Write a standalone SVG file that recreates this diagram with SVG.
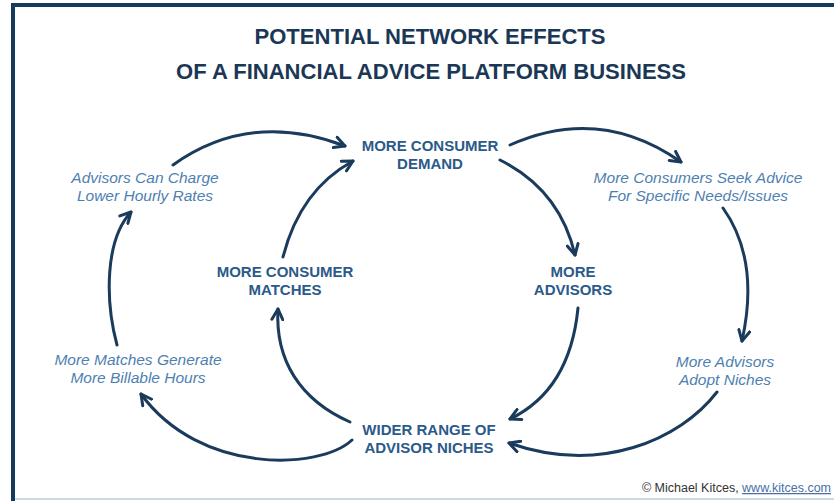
<svg xmlns="http://www.w3.org/2000/svg" width="834" height="501" viewBox="0 0 834 501">
<defs>
<marker id="arr" viewBox="0 0 14 14" refX="12" refY="7" markerWidth="14" markerHeight="14" markerUnits="userSpaceOnUse" orient="auto">
<path d="M1.5,1.5 L12,7 L1.5,12.5" fill="none" stroke="#1b3b5c" stroke-width="3" stroke-linecap="round" stroke-linejoin="round"/>
</marker>
<style>
.title{font-family:"Liberation Sans",Arial,sans-serif;font-weight:bold;font-size:22px;fill:#1b3756;text-anchor:middle}
.node{font-family:"Liberation Sans",Arial,sans-serif;font-weight:bold;font-size:15px;fill:#2b5a8a;text-anchor:middle}
.it{font-family:"Liberation Sans",Arial,sans-serif;font-style:italic;font-size:15.5px;fill:#4e7fb2;text-anchor:middle}
.c{fill:none;stroke:#1b3b5c;stroke-width:3;stroke-linecap:round;marker-end:url(#arr)}
.foot{font-family:"Liberation Sans",Arial,sans-serif;font-size:12.5px;fill:#333}
</style>
</defs>
<rect width="834" height="501" fill="#fff"/>
<rect x="11" y="3" width="823" height="4" fill="#163a5c"/>
<rect x="11" y="3" width="4" height="498" fill="#163a5c"/>
<rect x="15" y="498" width="819" height="2" fill="#cdd8e0"/>
<g id="title">
<text class="title" x="430" y="44" textLength="351" lengthAdjust="spacingAndGlyphs">POTENTIAL NETWORK EFFECTS</text>
<text class="title" x="431" y="79" textLength="510" lengthAdjust="spacingAndGlyphs">OF A FINANCIAL ADVICE PLATFORM BUSINESS</text>
</g>
<g id="connectors">
<path class="c" d="M173,165 Q250,110 345,146"/>
<path class="c" d="M283,257 Q300,190 353,161"/>
<path class="c" d="M510,145 Q600,105 681,162"/>
<path class="c" d="M500,160 Q560,190 575,255"/>
<path class="c" d="M723,208 Q760,260 742,341"/>
<path class="c" d="M578,308 Q570,390 510,419"/>
<path class="c" d="M717,392 C680,440 600,475 509,443"/>
<path class="c" d="M352,440 C320,470 200,475 141,394"/>
<path class="c" d="M350,422 C300,400 275,360 278,309"/>
<path class="c" d="M117,345 C105,300 105,240 131,212"/>
</g>
<g id="demand"><text class="node" x="430" y="151">MORE CONSUMER</text><text class="node" x="430" y="169">DEMAND</text></g>
<g id="matches"><text class="node" x="285" y="277">MORE CONSUMER</text><text class="node" x="285" y="295">MATCHES</text></g>
<g id="advisors"><text class="node" x="573" y="277">MORE</text><text class="node" x="573" y="295">ADVISORS</text></g>
<g id="niches"><text class="node" x="429" y="435">WIDER RANGE OF</text><text class="node" x="429" y="453">ADVISOR NICHES</text></g>
<g id="rates"><text class="it" x="145" y="183">Advisors Can Charge</text><text class="it" x="145" y="201">Lower Hourly Rates</text></g>
<g id="seek"><text class="it" x="698" y="183">More Consumers Seek Advice</text><text class="it" x="698" y="201">For Specific Needs/Issues</text></g>
<g id="billable"><text class="it" x="138" y="365">More Matches Generate</text><text class="it" x="138" y="383">More Billable Hours</text></g>
<g id="adopt"><text class="it" x="725" y="367">More Advisors</text><text class="it" x="725" y="385">Adopt Niches</text></g>
<g id="footer"><text class="foot" x="831" y="492" text-anchor="end">© Michael Kitces, <tspan fill="#4a6fa5" text-decoration="underline">www.kitces.com</tspan></text></g>
</svg>
